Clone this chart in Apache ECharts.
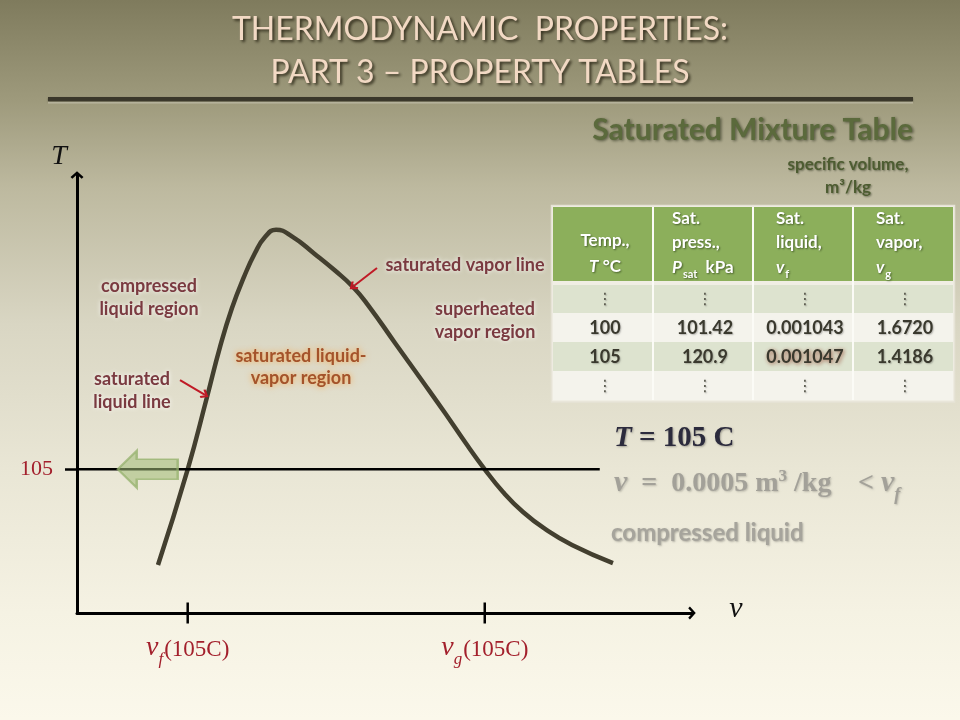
<!DOCTYPE html>
<html>
<head>
<meta charset="utf-8">
<script src="https://cdn.jsdelivr.net/npm/echarts@6/dist/echarts.min.js"></script>
<style>html,body{margin:0;padding:0;background:#f5f2e2;}#c{width:960px;height:720px;}</style>
</head>
<body>
<div id="c"></div>
<script>
// ---------- data ----------
const titleLines = ['THERMODYNAMIC  PROPERTIES:', 'PART 3 \u2013 PROPERTY TABLES'];
const tableTitle = 'Saturated Mixture Table';
const unitsLines = ['specific volume,', 'm\u00b3/kg'];
const headerCol0 = ['{b|Temp.,}', '{i|T}{b| \u00b0C}'];
const headerCol1 = ['{b|Sat.}', '{b|press.,}', '{i|P}{s|sat}{b|  kPa}'];
const headerCol2 = ['{b|Sat.}', '{b|liquid,}', '{i|v}{s|f}'];
const headerCol3 = ['{b|Sat.}', '{b|vapor,}', '{i|v}{s|g}'];
const colTemp = ['\u22ee', '100', '105', '\u22ee'];
const colPsat = ['\u22ee', '101.42', '120.9', '\u22ee'];
const colVf = ['\u22ee', '0.001043', '0.001047', '\u22ee'];
const colVg = ['\u22ee', '1.6720', '1.4186', '\u22ee'];

// saturation dome (schematic T-v diagram)
const domeV = [13.17, 18.0, 21.14, 23.25, 25.2, 27.15, 28.94, 30.57, 32.36, 35.0, 38.6, 42.0, 44.88, 47.32, 51.71, 56.26, 59.84, 63.09, 66.3, 69.27, 72.52, 76.1, 80.49, 87.15];
const domeT = [35.1, 105, 157.8, 194.3, 222.8, 245.5, 263.0, 274.7, 280.0, 275.0, 262.5, 250.0, 238.2, 225.0, 197.3, 168.8, 146.1, 124.9, 105, 88.4, 73.8, 61.4, 49.7, 36.5];
const stateT = 105;
const vTickValues = [18.0, 66.3];     // v_f(105C), v_g(105C)
const vTickSubs = ['f', 'g'];
const isothermEndV = 85;
const compressedArrowV = 11.5;
const stateVText = '0.0005';
// annotation pointers [startV, startT, endV, endT]
const satLiqPointer = [16.75, 170.2, 20.81, 159.3];
const satVapPointer = [48.78, 252.1, 44.85, 238.4];

// ---------- chart ----------
const chart = echarts.init(document.getElementById('c'), null, {width: 960, height: 720});
const chevron = 'path://M10,0 L20,9 L17.2,11.6 L10,5 L2.8,11.6 L0,9 Z';
const serif = 'Liberation Serif';
const labelRed = '#a3202c';

const g = [];
// background
g.push({type: 'rect', z: -100, silent: true, shape: {x: 0, y: 0, width: 960, height: 720},
  style: {fill: new echarts.graphic.LinearGradient(0, 0, 0, 1, [
    {offset: 0, color: '#7f7b5d'}, {offset: 0.14, color: '#9e9a7c'}, {offset: 0.26, color: '#bdb99f'},
    {offset: 0.45, color: '#d9d6c3'}, {offset: 0.65, color: '#e9e6d5'}, {offset: 0.85, color: '#f5f2e3'},
    {offset: 1, color: '#fbf8eb'}])}});
// title
titleLines.forEach((t, i) => g.push({type: 'text', x: 480, y: 30 + i * 43, style: {
  text: t, fill: '#f2d9c4', font: '32px Lato', align: 'center', verticalAlign: 'middle',
  textShadowColor: 'rgba(35,30,15,0.85)', textShadowBlur: 3, textShadowOffsetX: 2, textShadowOffsetY: 2}}));
g.push({type: 'rect', shape: {x: 48, y: 97, width: 865, height: 4}, style: {fill: '#3a372a', shadowColor: 'rgba(0,0,0,0.4)', shadowBlur: 2, shadowOffsetY: 1}});
g.push({type: 'rect', shape: {x: 48, y: 102, width: 865, height: 1.5}, style: {fill: 'rgba(255,250,235,0.35)'}});
// table title
g.push({type: 'text', x: 913, y: 130, style: {text: tableTitle, font: 'bold 30px Lato', fill: '#5b6a3c', align: 'right', verticalAlign: 'middle',
  textShadowColor: 'rgba(30,35,15,0.6)', textShadowBlur: 3, textShadowOffsetX: 1.5, textShadowOffsetY: 1.5}});
unitsLines.forEach((t, i) => g.push({type: 'text', x: 848, y: 165 + i * 23, style: {text: t, font: 'bold 17px Lato', fill: '#4d5c31',
  align: 'center', verticalAlign: 'middle', textShadowColor: 'rgba(30,35,15,0.5)', textShadowBlur: 2, textShadowOffsetX: 1, textShadowOffsetY: 1}}));

// table
const tL = 553, tW = 400, colW = 100;
g.push({type: 'rect', shape: {x: tL - 1.5, y: 205.5, width: tW + 3, height: 196.5}, style: {fill: '#f0eee4', stroke: '#e6e3d6', lineWidth: 1.5}});
g.push({type: 'rect', shape: {x: tL, y: 207, width: tW, height: 74}, style: {fill: '#8caf5b'}});
const rowTops = [285, 313, 342, 371], rowH = [28, 29, 29, 29];
const rowFill = ['#dde3cf', '#f4f3ec', '#dde3cf', '#f4f3ec'];
rowTops.forEach((y, r) => g.push({type: 'rect', shape: {x: tL, y: y, width: tW, height: rowH[r]}, style: {fill: rowFill[r]}}));
[1, 2, 3].forEach(c => g.push({type: 'rect', shape: {x: tL + c * colW - 1, y: 207, width: 2, height: 193}, style: {fill: '#fbfbf6'}}));
const hdrRich = {
  b: {fontFamily: 'Lato', fontWeight: 'bold', fontSize: 17, fill: '#fff'},
  i: {fontFamily: 'Lato', fontWeight: 'bold', fontStyle: 'italic', fontSize: 17, fill: '#fff'},
  s: {fontFamily: 'Lato', fontWeight: 'bold', fontSize: 11, fill: '#fff', verticalAlign: 'bottom', padding: [0, 0, 0, 1]}
};
const hdrStyle = {fontFamily: 'Lato', fontWeight: 'bold', fontSize: 17, fill: '#ffffff', verticalAlign: 'middle', rich: hdrRich,
  textShadowColor: 'rgba(40,60,20,0.7)', textShadowBlur: 2, textShadowOffsetX: 1, textShadowOffsetY: 1};
g.push({type: 'text', x: 605, y: 254, style: Object.assign({}, hdrStyle, {text: headerCol0.join('\n'), align: 'center', lineHeight: 26})});
[headerCol1, headerCol2, headerCol3].forEach((lines, k) => g.push({type: 'text', x: [672, 776, 876][k], y: 243,
  style: Object.assign({}, hdrStyle, {text: lines.join('\n'), align: 'left', lineHeight: 24.5})}));
[colTemp, colPsat, colVf, colVg].forEach((col, c) => col.forEach((val, r) => {
  const isDots = val === '\u22ee';
  const hl = (c === 2 && r === 2);
  g.push({type: 'text', x: tL + c * colW + colW / 2 + 2, y: rowTops[r] + rowH[r] / 2 + 1, style: {
    text: val, font: isDots ? '16px "DejaVu Sans"' : 'bold 18px Lato', fill: isDots ? '#55554a' : '#3a392e',
    align: 'center', verticalAlign: 'middle',
    textShadowColor: hl ? 'rgba(140,60,40,0.8)' : 'rgba(0,0,0,0.25)', textShadowBlur: hl ? 4 : 1.5,
    textShadowOffsetX: 1, textShadowOffsetY: 1}});
}));

// state text on the right
const serifRich = {
  ti: {font: 'italic bold 29px "Liberation Serif"', fill: '#2c2b3d'},
  r: {font: 'bold 29px "Liberation Serif"', fill: '#2c2b3d'}
};
g.push({type: 'text', x: 614, y: 439, style: {text: '{ti|T}{r| = ' + stateT + ' C}', rich: serifRich, verticalAlign: 'middle',
  textShadowColor: 'rgba(0,0,0,0.3)', textShadowBlur: 2, textShadowOffsetX: 1, textShadowOffsetY: 1}});
const grayRich = {
  vi: {font: 'italic bold 30px "Liberation Serif"', fill: '#a3a199', verticalAlign: 'bottom'},
  r: {font: 'bold 28px "Liberation Serif"', fill: '#a3a199', verticalAlign: 'bottom'},
  sup: {font: 'bold 17px "Liberation Serif"', fill: '#a3a199', verticalAlign: 'top'},
  sub: {font: 'italic bold 18px "Liberation Serif"', fill: '#a3a199', verticalAlign: 'bottom', padding: [0, 0, -6, 0]}
};
g.push({type: 'text', x: 614, y: 483, style: {text: '{vi|v}{r|  =  ' + stateVText + ' m}{sup|3}{r| /kg}', rich: grayRich, verticalAlign: 'middle',
  textShadowColor: 'rgba(0,0,0,0.2)', textShadowBlur: 2, textShadowOffsetX: 1, textShadowOffsetY: 1}});
g.push({type: 'text', x: 858, y: 483, style: {text: '{r|< }{vi|v}{sub|f}', rich: grayRich, verticalAlign: 'middle',
  textShadowColor: 'rgba(0,0,0,0.2)', textShadowBlur: 2, textShadowOffsetX: 1, textShadowOffsetY: 1}});
g.push({type: 'text', x: 611, y: 533, style: {text: 'compressed liquid', font: 'bold 24px Lato', fill: '#a6a49c', verticalAlign: 'middle',
  textShadowColor: 'rgba(0,0,0,0.25)', textShadowBlur: 2, textShadowOffsetX: 1, textShadowOffsetY: 1}});

// axis names
g.push({type: 'text', x: 59, y: 157, style: {text: 'T', font: 'italic 28px "Liberation Serif"', fill: '#111', align: 'center', verticalAlign: 'middle'}});
g.push({type: 'text', x: 736, y: 609, style: {text: 'v', font: 'italic 30px "Liberation Serif"', fill: '#111', align: 'center', verticalAlign: 'middle'}});

// region labels
const regStyle = {font: 'bold 18px Lato', fill: '#7a3a40', align: 'center', verticalAlign: 'middle',
  textShadowColor: 'rgba(255,255,255,0.95)', textShadowBlur: 4};
const regions = [
  ['compressed\nliquid region', 149, 298, 23],
  ['saturated\nliquid line', 132, 391, 23],
  ['saturated vapor line', 465, 265, 23],
  ['superheated\nvapor region', 485, 321, 23]
];
regions.forEach(r => g.push({type: 'text', x: r[1], y: r[2], style: Object.assign({}, regStyle, {text: r[0], lineHeight: r[3]})}));
g.push({type: 'text', x: 301, y: 367, style: Object.assign({}, regStyle, {text: 'saturated liquid-\nvapor region', lineHeight: 22,
  fill: '#a4532a', textShadowColor: 'rgba(250,165,70,1)', textShadowBlur: 6})});

const option = {
  animation: false,
  grid: {left: 77, top: 175, right: 268, bottom: 107},
  xAxis: {
    type: 'value', min: 0, max: 100,
    splitLine: {show: false},
    axisLine: {show: true, onZero: false, symbol: ['none', chevron], symbolSize: [13, 9], lineStyle: {color: '#000', width: 3}},
    axisTick: {show: false},
    axisLabel: {
      customValues: vTickValues, margin: 21,
      formatter: function (val) {
        let i = 0;
        vTickValues.forEach((x, k) => { if (Math.abs(x - val) < 1e-6) i = k; });
        return '{v|v}{s|' + vTickSubs[i] + '}{n|(' + stateT + 'C)}';
      },
      rich: {
        v: {fontFamily: serif, fontStyle: 'italic', fontSize: 28, color: labelRed, verticalAlign: 'bottom'},
        s: {fontFamily: serif, fontStyle: 'italic', fontSize: 17, color: labelRed, verticalAlign: 'bottom', padding: [0, 1, -6, 0]},
        n: {fontFamily: serif, fontSize: 23, color: labelRed, verticalAlign: 'bottom', padding: [0, 0, 1, 0]}
      }
    }
  },
  yAxis: {
    type: 'value', min: 0, max: 320,
    splitLine: {show: false},
    axisLine: {show: true, onZero: false, symbol: ['none', chevron], symbolSize: [13, 9], lineStyle: {color: '#000', width: 3}},
    axisTick: {show: true, customValues: [stateT], length: 12, lineStyle: {color: '#000', width: 2.5}},
    axisLabel: {customValues: [stateT], margin: 24, color: labelRed, fontFamily: serif, fontSize: 22}
  },
  series: [
    {
      name: 'dome', type: 'line', smooth: 0.5, symbol: 'none', silent: true,
      data: domeV.map((v, i) => [v, domeT[i]]),
      lineStyle: {color: '#433f2f', width: 4.5},
      markLine: {
        silent: true, symbol: ['none', chevron], symbolSize: [10, 8],
        label: {show: false}, lineStyle: {color: '#c01a26', width: 2, type: 'solid'},
        data: [
          [{coord: [satLiqPointer[0], satLiqPointer[1]]}, {coord: [satLiqPointer[2], satLiqPointer[3]]}],
          [{coord: [satVapPointer[0], satVapPointer[1]]}, {coord: [satVapPointer[2], satVapPointer[3]]}]
        ]
      }
    },
    {
      name: 'isotherm', type: 'line', symbol: 'none', silent: true,
      data: [[0, stateT], [isothermEndV, stateT]],
      lineStyle: {color: '#000', width: 2.5}
    },
    {
      name: 'vticks', type: 'scatter', clip: false, silent: true,
      data: vTickValues.map(v => [v, 0]),
      symbol: 'rect', symbolSize: [2.5, 21], itemStyle: {color: '#000', opacity: 1}
    },
    {
      name: 'toCompressed', type: 'scatter', clip: false, silent: true, z: 5,
      data: [[compressedArrowV, stateT]],
      symbol: 'path://M0,18.5 L19,0 L19,8.5 L60,8.5 L60,28.5 L19,28.5 L19,37 Z', symbolSize: [60, 37],
      itemStyle: {color: 'rgba(160,188,118,0.55)', borderColor: 'rgba(150,178,110,0.75)', borderWidth: 2, opacity: 1}
    }
  ],
  graphic: {elements: g}
};
chart.setOption(option);
</script>
</body>
</html>
